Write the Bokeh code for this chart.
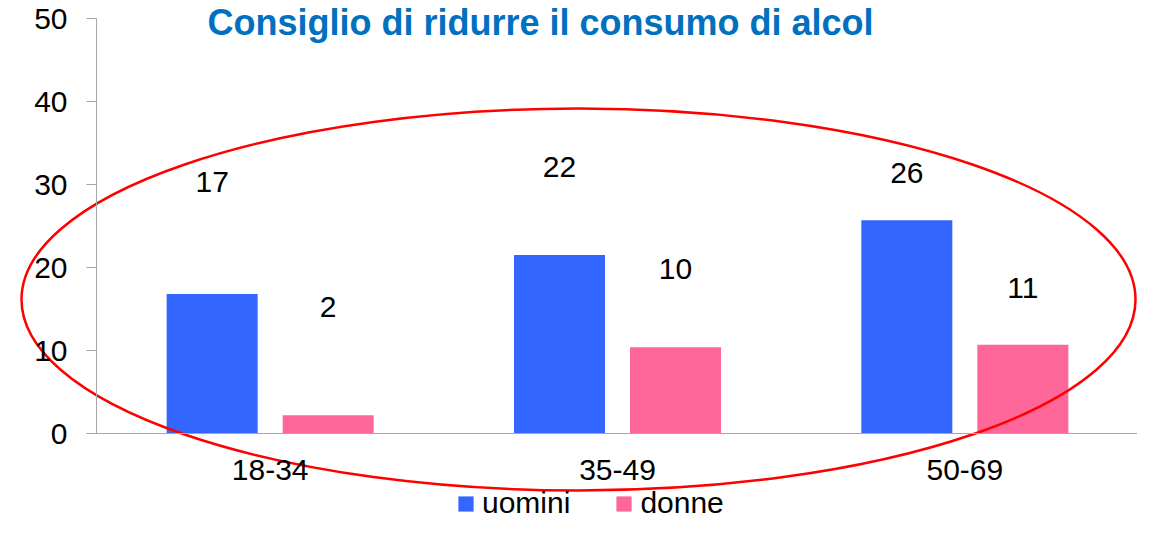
from bokeh.plotting import figure
from bokeh.models import Range1d, LinearAxis, FixedTicker, Legend, LegendItem, ColumnDataSource
from bokeh.core.properties import value
from bokeh.embed import file_html
from bokeh.resources import INLINE

# ---------------- data ----------------
title_text = "Consiglio di ridurre il consumo di alcol"
categories = ["18-34", "35-49", "50-69"]
series_names = ["uomini", "donne"]
uomini = [16.8, 21.5, 25.7]
donne = [2.2, 10.4, 10.7]
uomini_labels = ["17", "22", "26"]
donne_labels = ["2", "10", "11"]
y_ticks = [0, 10, 20, 30, 40, 50]

# ---------------- layout / style ----------------
W, H = 1137, 521
X0_PX = 96        # screen x of the value axis
X_END_PX = 1138   # screen x of the end of the category axis
Y0_PX = 433       # screen y of value 0
Y50_PX = 18       # screen y of value 50
n = len(categories)
xs = (X_END_PX - X0_PX) / n      # px per category
ys = (Y0_PX - Y50_PX) / 50.0     # px per unit
BAR_W = 0.262
BAR_OFF = 0.167
# label offsets above bar tops (px), as placed in the original
off_u = [-112, -88, -47]
off_d = [-108, -78, -57]

BLUE = "#3366FF"
PINK = "#FF6699"
AXIS = "#A6A6A6"
FONT = "Liberation Sans"

idx = list(range(n))
src = ColumnDataSource(dict(
    xu=[i + 0.5 - BAR_OFF for i in idx],
    xd=[i + 0.5 + BAR_OFF for i in idx],
    uomini=uomini, donne=donne,
    lu=uomini_labels, ld=donne_labels,
    ou=off_u, od=off_d,
))

p = figure(width=W, height=H, output_backend="svg", toolbar_location=None,
           x_range=Range1d(-X0_PX / xs, (W - X0_PX) / xs),
           y_range=Range1d(-(H - Y0_PX) / ys, 50 + Y50_PX / ys),
           x_axis_type=None, y_axis_type=None, min_border=0,
           outline_line_color=None, background_fill_color="white")

ru = p.vbar(x="xu", top="uomini", bottom=0, width=BAR_W, fill_color=BLUE,
            line_color=None, source=src)
rd = p.vbar(x="xd", top="donne", bottom=0, width=BAR_W, fill_color=PINK,
            line_color=None, source=src)

p.text(x="xu", y="uomini", text="lu", y_offset="ou", text_align="center",
       text_baseline="middle", text_font=value(FONT), text_font_size="30px",
       text_color="black", source=src)
p.text(x="xd", y="donne", text="ld", y_offset="od", text_align="center",
       text_baseline="middle", text_font=value(FONT), text_font_size="30px",
       text_color="black", source=src)

# highlight ellipse (decoration)
ex, ey, ew, eh = 578, 299, 1114, 382
p.ellipse(x=[(ex - X0_PX) / xs], y=[(Y0_PX - ey) / ys], width=ew / xs,
          height=eh / ys, fill_color=None, line_color="#FF0000", line_width=2.5)

# title
p.text(x=[(540 - X0_PX) / xs], y=[50 + (Y50_PX - 1) / ys], text=[title_text],
       text_align="center", text_baseline="top", text_font=value(FONT),
       text_font_size="36px", text_font_style="bold", text_color="#0070C0")

# axes
yaxis = LinearAxis(fixed_location=0, bounds=(0, 50),
                   ticker=FixedTicker(ticks=y_ticks, minor_ticks=[]))
xaxis = LinearAxis(fixed_location=0, bounds=(-10 / xs, n),
                   ticker=FixedTicker(ticks=[i + 0.5 for i in idx], minor_ticks=[]),
                   major_label_overrides={i + 0.5: c for i, c in zip(idx, categories)})
for ax, so in ((yaxis, 19), (xaxis, 26)):
    ax.axis_line_color = AXIS
    ax.axis_line_width = 1
    ax.major_tick_line_color = AXIS
    ax.minor_tick_line_color = None
    ax.major_tick_in = 0
    ax.major_label_text_font = FONT
    ax.major_label_text_font_size = "30px"
    ax.major_label_text_color = "black"
    ax.major_label_standoff = so
yaxis.major_tick_out = 10
xaxis.major_tick_out = 0
p.add_layout(yaxis, "left")
p.add_layout(xaxis, "below")

legend = Legend(items=[LegendItem(label=series_names[0], renderers=[ru]),
                       LegendItem(label=series_names[1], renderers=[rd])],
                orientation="horizontal", location=(456, 1),
                glyph_width=19, glyph_height=19, label_standoff=7, spacing=44,
                padding=0, margin=0, border_line_color=None,
                background_fill_alpha=0, label_text_font=FONT,
                label_text_font_size="30px", label_text_color="black")
p.add_layout(legend)

open("out.html", "w").write(file_html(p, INLINE))
